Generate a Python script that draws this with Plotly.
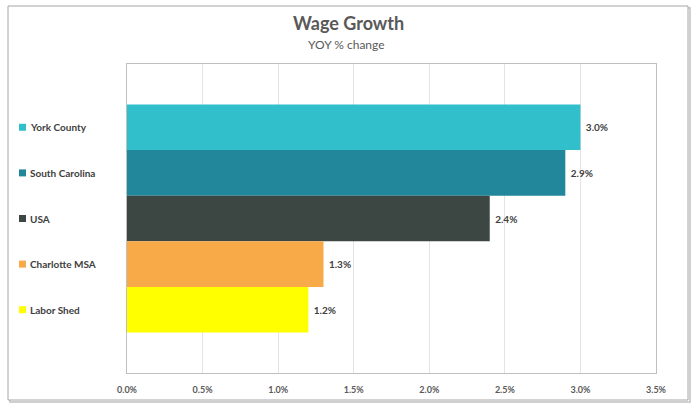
import plotly.graph_objects as go

# Wage growth, year-over-year % change
regions = ["York County", "South Carolina", "USA", "Charlotte MSA", "Labor Shed"]
growth = [0.030, 0.029, 0.024, 0.013, 0.012]
colors = ["#31BFCB", "#22879A", "#3C4744", "#F8A948", "#FFFF00"]
tick_vals = [0.0, 0.005, 0.010, 0.015, 0.020, 0.025, 0.030, 0.035]

W, H = 696, 406
ml, mr, mt, mb = 127, 40, 64, 33
pw, ph = W - ml - mr, H - mt - mb
bargap = 0.262


def px_x(x):
    return (x - ml) / pw


def px_y(y):
    return (H - mb - y) / ph


fig = go.Figure()
for name, val, col in zip(regions, growth, colors):
    fig.add_trace(go.Bar(
        y=["Wage Growth"], x=[val], name=name, orientation="h",
        marker=dict(color=col, line=dict(width=0)),
        text=[f"\u00a0{val:.1%}"], textposition="outside",
        textfont=dict(size=10, color="#404040", family="Lato", weight="bold"),
        cliponaxis=False,
    ))

# Key on the left: one small swatch + label per bar, centred on its bar
n = len(regions)
band = 1 - bargap
shapes = [
    dict(type="rect", xref="paper", yref="paper",
         x0=px_x(10), x1=px_x(690), y0=px_y(402), y1=px_y(8),
         line=dict(color="#D0D0D0", width=2), layer="below"),
    dict(type="rect", xref="paper", yref="paper",
         x0=px_x(8), x1=px_x(688), y0=px_y(400), y1=px_y(6),
         line=dict(color="#A6A6A6", width=1), fillcolor="white", layer="below"),
]
annotations = [
    dict(text="<b>Wage Growth</b>", x=px_x(348), xref="paper", xanchor="center",
         y=px_y(23), yref="paper", yanchor="middle", showarrow=False,
         font=dict(size=18, color="#595959", family="Lato")),
    dict(text="YOY % change", x=px_x(346), xref="paper", xanchor="center",
         y=px_y(45), yref="paper", yanchor="middle", showarrow=False,
         font=dict(size=12, color="#595959", family="Lato")),
]
for i, (name, col) in enumerate(zip(regions, colors)):
    yc = 1 - (bargap / 2 + band * (i + 0.5) / n)
    hs = 3.5 / ph
    shapes.append(dict(type="rect", xref="paper", yref="paper",
                       x0=px_x(19), x1=px_x(26), y0=yc - hs, y1=yc + hs,
                       fillcolor=col, line=dict(width=0)))
    annotations.append(dict(text=name, x=px_x(28), xref="paper", xanchor="left",
                            y=yc, yref="paper", yanchor="middle", showarrow=False,
                            font=dict(size=10, color="#404040", family="Lato",
                                      weight="bold")))

fig.update_layout(
    width=W, height=H,
    margin=dict(l=ml, r=mr, t=mt, b=mb),
    paper_bgcolor="white", plot_bgcolor="white",
    barmode="group", bargap=bargap, bargroupgap=0,
    font=dict(family="Lato", color="#595959"),
    showlegend=False,
    xaxis=dict(
        range=[0, 0.035], tickvals=tick_vals, tickformat=".1%",
        showgrid=True, gridcolor="#E3E3E3", gridwidth=1,
        showline=True, linecolor="#BFBFBF", linewidth=1, mirror=True,
        zeroline=False, ticks="", ticklen=0, ticklabelstandoff=8,
        tickfont=dict(size=9, color="#595959", family="Lato", weight="bold"),
    ),
    yaxis=dict(
        autorange="reversed", showticklabels=False, showgrid=False,
        showline=True, linecolor="#BFBFBF", linewidth=1, mirror=True,
        zeroline=False, ticks="",
    ),
    annotations=annotations,
    shapes=shapes,
)

fig.write_html("out.html")
